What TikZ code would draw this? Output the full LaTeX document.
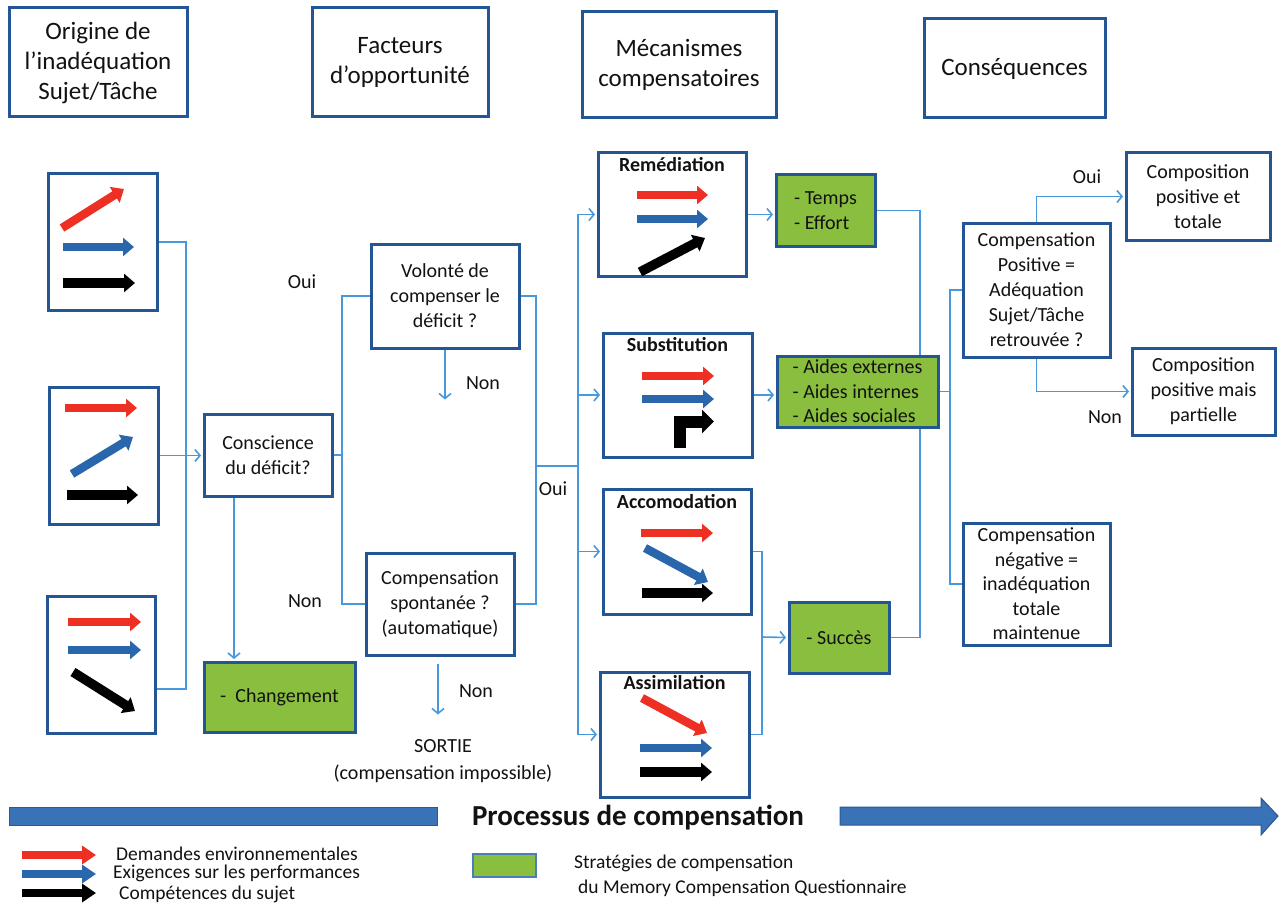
\documentclass[tikz,border=0pt]{standalone}
\usepackage{fontspec}
\setmainfont{Carlito}
\usetikzlibrary{arrows.meta,backgrounds}
\definecolor{boxblue}{RGB}{36,86,150}
\definecolor{linkblue}{RGB}{72,152,222}
\definecolor{grn}{RGB}{138,190,62}
\definecolor{ared}{RGB}{238,48,36}
\definecolor{ablue}{RGB}{42,102,172}
\definecolor{band}{RGB}{58,114,184}
\definecolor{bandedge}{RGB}{40,88,150}
\definecolor{legedge}{RGB}{74,126,187}
\definecolor{txt}{RGB}{18,18,18}
\newcommand\fsz[2]{\fontsize{#1}{#2}\selectfont}
\begin{document}
\begin{tikzpicture}[x=1pt,y=-1pt,
  box/.style={draw=boxblue, line width=3pt, fill=white, inner sep=0pt, align=center, text=txt, font=\fsz{20}{25}},
  gbox/.style={box, fill=grn},
  hdr/.style={box, font=\fsz{25}{30}},
  sz/.style 2 args={minimum width=#1pt, minimum height=#2pt},
  link/.style={draw=linkblue, line width=1.6pt},
  arr/.style={link, -{Straight Barb[length=5pt,width=12pt]}, shorten >=1.5pt},
  lbl/.style={font=\fsz{20}{24}, inner sep=0pt, text=txt},
  ttl/.style={font=\bfseries\fsz{20}{24}, inner sep=0pt, text=txt},
  ra/.style={line width=8.5pt, -{Triangle[length=11pt,width=18pt]}},
  leg/.style={font=\fsz{19.5}{22}, inner sep=0pt, text=txt, anchor=west},
]
\useasboundingbox (0,0) rectangle (1281,904);

% ---- headers
\node[hdr, sz={178}{109}] (hOrig) at (98,62.5) {Origine de\\l’inadéquation\\Sujet/Tâche};
\node[hdr, sz={176}{109}] (hFact) at (400,62.5) {Facteurs\\d’opportunité};
\node[hdr, sz={194}{106}] (hMeca) at (679,65) {Mécanismes\\compensatoires};
\node[hdr, sz={181}{99}] (hCons) at (1014.5,68.5) {Conséquences};

% ---- origin boxes
\node[box, sz={109}{136}] (b1) at (102.5,242) {};
\node[box, sz={109}{137}] (b2) at (103.5,455.5) {};
\node[box, sz={108}{137}] (b3) at (101,664.5) {};
\draw[ra, ared] (62,228) -- (124,189);
\draw[ra, ablue] (63,247) -- (134,247);
\draw[ra, black, line width=9.5pt] (63,283) -- (135,283);
\draw[ra, ared] (65,408) -- (137,408);
\draw[ra, ablue] (72,474) -- (133,437);
\draw[ra, black, line width=9.5pt] (67,495) -- (138,495);
\draw[ra, ared] (68,622) -- (141,622);
\draw[ra, ablue] (68,650) -- (141,650);
\draw[ra, black, line width=9.5pt] (73,672) -- (135,711);

% ---- awareness / opportunity
\node[box, sz={128}{82}] (cons) at (268,455) {Conscience\\du déficit?};
\node[gbox, sz={151}{70}] (chg) at (279.5,697) {-\ \ Changement};
\node[box, sz={148}{104}] (vol) at (445,296) {Volonté de\\compenser le\\déficit ?};
\node[box, sz={148}{102}] (csp) at (440,604) {Compensation\\spontanée ?\\(automatique)};
\node[lbl] (oui1) at (302,282) {Oui};
\node[lbl] (non1) at (305,601) {Non};
\node[lbl] (non2) at (483,383) {Non};
\node[lbl] (oui2) at (553,489) {Oui};
\node[lbl] (non3) at (476,691) {Non};
\node[lbl, align=center, font=\fsz{20}{27}] (sortie) at (443,761) {SORTIE\\(compensation impossible)};

% ---- mechanisms
\node[box, sz={148}{123}] (rem) at (672,214.5) {};
\node[box, sz={149}{124}] (sub) at (677.5,395) {};
\node[box, sz={148}{125}] (acc) at (677,551.5) {};
\node[box, sz={149}{125}] (asm) at (674.5,734.5) {};
\node[ttl] (tRem) at ([yshift=-13pt]rem.north) {Remédiation};
\node[ttl] (tSub) at ([yshift=-13pt]sub.north) {Substitution};
\node[ttl] (tAcc) at ([yshift=-14pt]acc.north) {Accomodation};
\node[ttl] (tAsm) at ([yshift=-12pt]asm.north) {Assimilation};
\draw[ra, ared] (637,195) -- (708,195);
\draw[ra, ablue] (637,219) -- (708,219);
\draw[ra, black, line width=9.5pt] (640,272) -- (705,238);
\draw[ra, ared] (642,376) -- (714,376);
\draw[ra, ablue] (642,399) -- (714,399);
\draw[line width=12pt, black, -{Triangle[length=12pt,width=23pt]}] (679.5,448) -- (679.5,421.5) -- (714,421.5);
\draw[ra, ared] (641,533) -- (713,533);
\draw[ra, ablue] (645,548) -- (708,582);
\draw[ra, black, line width=9.5pt] (642,593) -- (713,593);
\draw[ra, ared] (642,698) -- (707,733);
\draw[ra, ablue] (640,748) -- (712,748);
\draw[ra, black, line width=9.5pt] (640,772) -- (712,772);

% ---- strategies
\node[gbox, sz={99}{71}, align=left] (tmp) at (825.5,210.5) {- Temps\\- Effort};
\node[gbox, sz={161}{71}, align=left, font=\fsz{20}{24.5}] (aid) at (857.5,391.5) {- Aides externes\\- Aides internes\\- Aides sociales};
\node[gbox, sz={100}{71}] (suc) at (839,637.5) {- Succès};

% ---- consequences
\node[box, sz={147}{134}] (cpos) at (1036.5,290) {Compensation\\Positive =\\Adéquation\\Sujet/Tâche\\retrouvée ?};
\node[box, sz={147}{122}, font=\fsz{20}{24.5}] (cneg) at (1036.5,584) {Compensation\\négative =\\inadéquation\\totale\\maintenue};
\node[box, sz={144}{87}] (ctot) at (1198,196.5) {Composition\\positive et\\totale};
\node[box, sz={143}{87}] (cpar) at (1203.5,391.5) {Composition\\positive mais\\partielle};
\node[lbl] (oui3) at (1087,177) {Oui};
\node[lbl] (non4) at (1105,417) {Non};

% ---- connectors
\coordinate (j1) at (186,455);
\coordinate (j2) at (342,455);
\coordinate (j3) at (536,466);
\coordinate (j4) at (578,466);
\coordinate (vn) at (445,401);
\coordinate (cn) at (438,716);
\coordinate (j5) at (762,637);
\coordinate (j6) at (920,400);
\coordinate (j7) at (950,391.5);
\begin{pgfonlayer}{background}
\fill[white] (0,0) rectangle (1281,904);
\draw[link] (b1.east) -| (j1);
\draw[link] ([yshift=-24.5pt]b3.east) -| (j1);
\draw[arr] (b2.east) -- (b2.east -| cons.west);
\draw[arr] ([xshift=-34pt]cons.south) -- ([xshift=-34pt]cons.south |- chg.north);
\draw[link] (cons.east) -- (j2);
\draw[link] (vol.west) -| (j2);
\draw[link] (csp.west) -| (j2);
\draw[link] (vol.east) -| (j3);
\draw[link] (csp.east) -| (j3);
\draw[link] (j3) -- (j4);
\draw[arr] (vol.south) -- (vn);
\draw[arr] ([xshift=-2pt,yshift=-7pt]csp.south) -- (cn);
\draw[arr] (j4) |- (rem.west);
\draw[arr] (j4) |- (sub.west);
\draw[arr] (j4) |- (acc.west);
\draw[arr] (j4) |- (asm.west);
\draw[arr] (rem.east) -- (rem.east -| tmp.west);
\draw[arr] (sub.east) -- (sub.east -| aid.west);
\draw[link] (acc.east) -| (j5);
\draw[link] (asm.east) -| (j5);
\draw[arr] (j5) -- (suc.west);
\draw[link] (tmp.east) -| (j6);
\draw[link] (suc.east) -| (j6);
\draw[link] (aid.east) -- (j7);
\draw[link] (cpos.west) -| (j7);
\draw[link] (cneg.west) -| (j7);
\draw[arr] (cpos.north) |- (ctot.west);
\draw[arr] (cpos.south) |- (cpar.west);
\end{pgfonlayer}

% ---- process band
\draw[fill=band, draw=bandedge, line width=1pt] (9,807) rectangle (437,825);
\draw[fill=band, draw=bandedge, line width=1pt] (840,807) -- (1261,807) -- (1261,798) -- (1278,816) -- (1261,835) -- (1261,825) -- (840,825) -- cycle;
\node[font=\bfseries\fsz{29}{34}, text=txt, inner sep=0pt] (proc) at (638,818) {Processus de compensation};

% ---- legend
\draw[ra, ared, -{Triangle[length=14pt,width=18pt]}] (22,855) -- (96,855);
\draw[ra, ablue, -{Triangle[length=14pt,width=18pt]}] (22,874) -- (96,874);
\draw[ra, black, -{Triangle[length=14pt,width=18pt]}] (22,893) -- (96,893);
\node[leg] (l1) at (116,854) {Demandes environnementales};
\node[leg] (l2) at (113,873) {Exigences sur les performances};
\node[leg] (l3) at (119,894) {Compétences du sujet};
\node[draw=legedge, fill=grn, line width=2pt, inner sep=0pt, minimum width=63pt, minimum height=23pt] (lg) at (504.5,865.5) {};
\node[leg] (l4) at (574,863) {Stratégies de compensation};
\node[leg] (l5) at (578,888) {du Memory Compensation Questionnaire};
\end{tikzpicture}
\end{document}
